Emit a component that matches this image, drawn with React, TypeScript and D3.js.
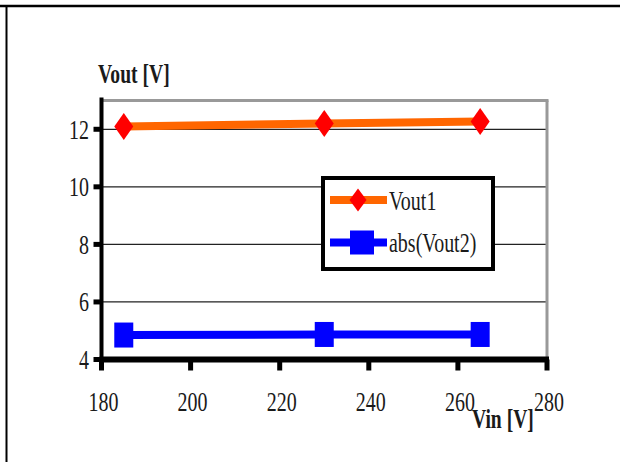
import React, { useEffect } from "react";
import * as d3 from "d3";

const vin = [185, 230, 265];
const vout1 = [12.1, 12.2, 12.27];
const vout2 = [4.85, 4.87, 4.87];
const xTicks = [180, 200, 220, 240, 260, 280];
const yTicks = [4, 6, 8, 10, 12];
const gridValues = [6, 8, 10, 12];
const seriesNames = ["Vout1", "abs(Vout2)"];
const xTitle = "Vin [V]";
const yTitle = "Vout [V]";

const W = 620;
const H = 462;
const FONT = "'Liberation Serif', 'Times New Roman', serif";

export default function App() {
  useEffect(() => {
    document.body.style.margin = "0";
    document.body.style.overflow = "hidden";
    document.documentElement.style.overflow = "hidden";
  }, []);

  const x = d3.scaleLinear().domain([180, 280]).range([101.5, 547]);
  const y = d3.scaleLinear().domain([4, 13]).range([359.5, 100.5]);
  const line = d3
    .line<[number, number]>()
    .x((d) => x(d[0]))
    .y((d) => y(d[1]));
  const pts1 = vin.map((v, i) => [v, vout1[i]] as [number, number]);
  const pts2 = vin.map((v, i) => [v, vout2[i]] as [number, number]);

  const diamond = (cx: number, cy: number, w: number, h: number) =>
    `M${cx},${cy - h / 2}L${cx + w / 2},${cy}L${cx},${cy + h / 2}L${cx - w / 2},${cy}Z`;

  const txt = (
    s: string,
    tx: number,
    ty: number,
    anchor: string,
    size: number,
    bold = false,
    sx = 0.74
  ) => (
    <text
      key={s + tx + ty}
      transform={`translate(${tx},${ty}) scale(${sx},1)`}
      textAnchor={anchor}
      fontFamily={FONT}
      fontSize={size}
      fontWeight={bold ? "bold" : "normal"}
      fill="#1a1a1a"
    >
      {s}
    </text>
  );

  return (
    <svg
      width={W}
      height={H}
      style={{ position: "absolute", left: 0, top: 0, display: "block", background: "#fff" }}
    >
      {/* frame */}
      <line x1={0} x2={W} y1={6} y2={6} stroke="#000" strokeWidth={2.5} />
      <line x1={6.5} x2={6.5} y1={5} y2={H} stroke="#000" strokeWidth={2} />

      {/* grid */}
      {gridValues.map((g) => (
        <line key={g} x1={x(180)} x2={x(280)} y1={y(g)} y2={y(g)} stroke="#222" strokeWidth={1.3} />
      ))}
      {/* plot border top/right */}
      <line x1={x(180)} x2={x(280) + 1.5} y1={y(13)} y2={y(13)} stroke="#999" strokeWidth={3} />
      <line x1={x(280)} x2={x(280)} y1={y(13)} y2={y(4)} stroke="#999" strokeWidth={3} />

      {/* axes */}
      <line x1={x(180)} x2={x(180)} y1={y(13) - 3} y2={y(4) + 3} stroke="#000" strokeWidth={4} />
      <line x1={x(180) - 2} x2={x(280) + 2} y1={y(4)} y2={y(4)} stroke="#000" strokeWidth={6} />
      {yTicks.map((t) => (
        <line key={"yt" + t} x1={x(180) - 8} x2={x(180)} y1={y(t)} y2={y(t)} stroke="#000" strokeWidth={5} />
      ))}
      {xTicks.map((t) => (
        <line key={"xt" + t} x1={x(t)} x2={x(t)} y1={y(4)} y2={y(4) + 11} stroke="#000" strokeWidth={5} />
      ))}

      {/* tick labels */}
      {yTicks.map((t) => txt(String(t), 89, y(t) + 9.5, "end", 27))}
      {xTicks.map((t) => txt(String(t), x(t) + 2, 411, "middle", 27))}

      {/* axis titles */}
      {txt(yTitle, 98, 83, "start", 28, true, 0.7)}
      {txt(xTitle, 472, 428, "start", 28, true, 0.7)}

      {/* series */}
      <path d={line(pts1) || ""} fill="none" stroke="#FF6600" strokeWidth={8} />
      <path d={line(pts2) || ""} fill="none" stroke="#0000FF" strokeWidth={8} />
      {pts1.map((p, i) => (
        <path key={"d" + i} d={diamond(x(p[0]), y(p[1]), 19, 27)} fill="#FF0000" />
      ))}
      {pts2.map((p, i) => (
        <rect key={"s" + i} x={x(p[0]) - 9.5} y={y(p[1]) - 12.5} width={19} height={25} fill="#0000FF" />
      ))}

      {/* legend */}
      <rect x={323} y={178} width={170} height={91} fill="#fff" stroke="#000" strokeWidth={4} />
      <line x1={330} x2={387} y1={200} y2={200} stroke="#FF6600" strokeWidth={8} />
      <path d={diamond(358, 200, 17, 23)} fill="#FF0000" />
      {txt(seriesNames[0], 389, 210, "start", 27)}
      <line x1={330} x2={387} y1={242.5} y2={242.5} stroke="#0000FF" strokeWidth={8} />
      <rect x={350} y={230.5} width={24} height={24} fill="#0000FF" />
      {txt(seriesNames[1], 389, 252, "start", 27)}
    </svg>
  );
}
